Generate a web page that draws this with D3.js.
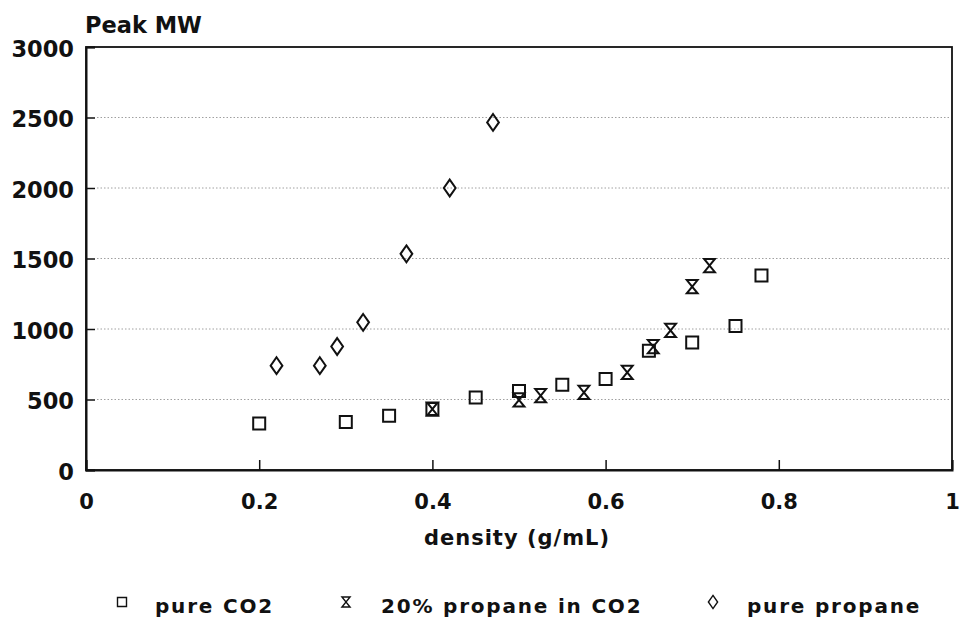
<!DOCTYPE html>
<html>
<head>
<meta charset="utf-8">
<script src="https://cdn.jsdelivr.net/npm/d3@7"></script>
<style>
  html, body { margin: 0; padding: 0; background: #fff; }
  svg { display: block; }
  text { font-family: "DejaVu Sans", sans-serif; font-weight: bold; fill: #111; }
</style>
</head>
<body>
<svg id="chart" width="961" height="621"></svg>
<script>
// Peak molecular weight vs. fluid density for three supercritical solvents
const co2Density     = [0.20, 0.30, 0.35, 0.40, 0.45, 0.50, 0.55, 0.60, 0.65, 0.70, 0.75, 0.78];
const co2PeakMW      = [330,  340,  385,  432,  515,  560,  605,  645,  845,  905,  1022, 1380];

const mixDensity     = [0.40, 0.50, 0.525, 0.575, 0.625, 0.655, 0.675, 0.70, 0.72];
const mixPeakMW      = [432,  497,  527,   550,   692,   875,   990,   1300, 1450];

const propaneDensity = [0.22, 0.27, 0.29, 0.32, 0.37, 0.42, 0.47];
const propanePeakMW  = [740,  740,  876,  1047, 1533, 2000, 2465];

const xTicks = [0, 0.2, 0.4, 0.6, 0.8, 1];
const yTicks = [0, 500, 1000, 1500, 2000, 2500, 3000];
const gridValues = [500, 1000, 1500, 2000, 2500];

const seriesNames = ["pure CO2", "20% propane in CO2", "pure propane"];

const svg = d3.select("#chart");
const plot = { left: 86, right: 952, top: 47, bottom: 470 };

const x = d3.scaleLinear().domain([0, 1]).range([plot.left, plot.right]);
const y = d3.scaleLinear().domain([0, 3000]).range([plot.bottom, plot.top]);

// Marker shapes centred on the origin
const shapes = {
  square: s => `M${-s/2},${-s/2}H${s/2}V${s/2}H${-s/2}Z`,
  hourglass: s => { const w = s*0.45, h = s*0.55; return `M${-w},${-h}H${w}L${-w},${h}H${w}Z`; },
  diamond: s => { const w = s*0.42, h = s*0.6; return `M0,${-h}L${w},0L0,${h}L${-w},0Z`; }
};

// dotted horizontal grid
svg.append("g")
  .selectAll("line")
  .data(gridValues)
  .join("line")
  .attr("x1", plot.left + 11).attr("x2", plot.right - 2)
  .attr("y1", d => y(d)).attr("y2", d => y(d))
  .attr("stroke", "#a0a0a0")
  .attr("stroke-width", 1)
  .attr("stroke-dasharray", "1.5,2");

// frame
svg.append("rect")
  .attr("x", plot.left).attr("y", plot.top)
  .attr("width", plot.right - plot.left).attr("height", plot.bottom - plot.top)
  .attr("fill", "none").attr("stroke", "#111").attr("stroke-width", 1.8);

// x axis with inward ticks
const xAxis = svg.append("g")
  .attr("transform", `translate(0,${plot.bottom})`)
  .call(d3.axisBottom(x).tickValues(xTicks).tickSize(-10).tickPadding(24)
    .tickFormat(d => String(d)));
xAxis.select(".domain").attr("stroke", "#111").attr("stroke-width", 2);
xAxis.selectAll(".tick line").attr("stroke", "#111").attr("stroke-width", 1.5);
xAxis.selectAll(".tick text").attr("font-size", 21).attr("fill", "#111")
  .style("font-family", "'DejaVu Sans', sans-serif").style("font-weight", "bold");

// y axis with inward ticks
const yAxis = svg.append("g")
  .attr("transform", `translate(${plot.left},0)`)
  .call(d3.axisLeft(y).tickValues(yTicks).tickSize(-9).tickPadding(12)
    .tickFormat(d => String(d)));
yAxis.select(".domain").attr("stroke", "#111").attr("stroke-width", 2);
yAxis.selectAll(".tick line").attr("stroke", "#111").attr("stroke-width", 1.5);
yAxis.selectAll(".tick text").attr("font-size", 22.5).attr("fill", "#111")
  .attr("dy", "0.42em")
  .style("font-family", "'DejaVu Sans', sans-serif").style("font-weight", "bold");

// axis titles
svg.append("text").attr("x", 85).attr("y", 33).attr("font-size", 22.5).text("Peak MW");
svg.append("text").attr("x", (plot.left + plot.right) / 2 - 2).attr("y", 545)
  .attr("text-anchor", "middle").attr("font-size", 21).attr("letter-spacing", 1)
  .text("density (g/mL)");

// data points
const series = [
  { dens: co2Density, mw: co2PeakMW, shape: "square", size: 12 },
  { dens: mixDensity, mw: mixPeakMW, shape: "hourglass", size: 12 },
  { dens: propaneDensity, mw: propanePeakMW, shape: "diamond", size: 14 }
];

series.forEach(s => {
  svg.append("g")
    .selectAll("path")
    .data(s.dens.map((d, i) => [d, s.mw[i]]))
    .join("path")
    .attr("transform", d => `translate(${x(d[0])},${y(d[1])})`)
    .attr("d", shapes[s.shape](s.size))
    .attr("fill", "none")
    .attr("stroke", "#111")
    .attr("stroke-width", 2);
});

// legend
const legendItems = [
  { name: seriesNames[0], shape: "square", size: 9, sx: 122, tx: 155 },
  { name: seriesNames[1], shape: "hourglass", size: 9, sx: 346, tx: 381 },
  { name: seriesNames[2], shape: "diamond", size: 11, sx: 713, tx: 747 }
];
const legend = svg.append("g");
legendItems.forEach(item => {
  legend.append("path")
    .attr("transform", `translate(${item.sx},602)`)
    .attr("d", shapes[item.shape](item.size))
    .attr("fill", "none").attr("stroke", "#111").attr("stroke-width", 1.4);
  legend.append("text").attr("x", item.tx).attr("y", 613)
    .attr("font-size", 20).attr("letter-spacing", 1.8).text(item.name);
});
</script>
</body>
</html>
